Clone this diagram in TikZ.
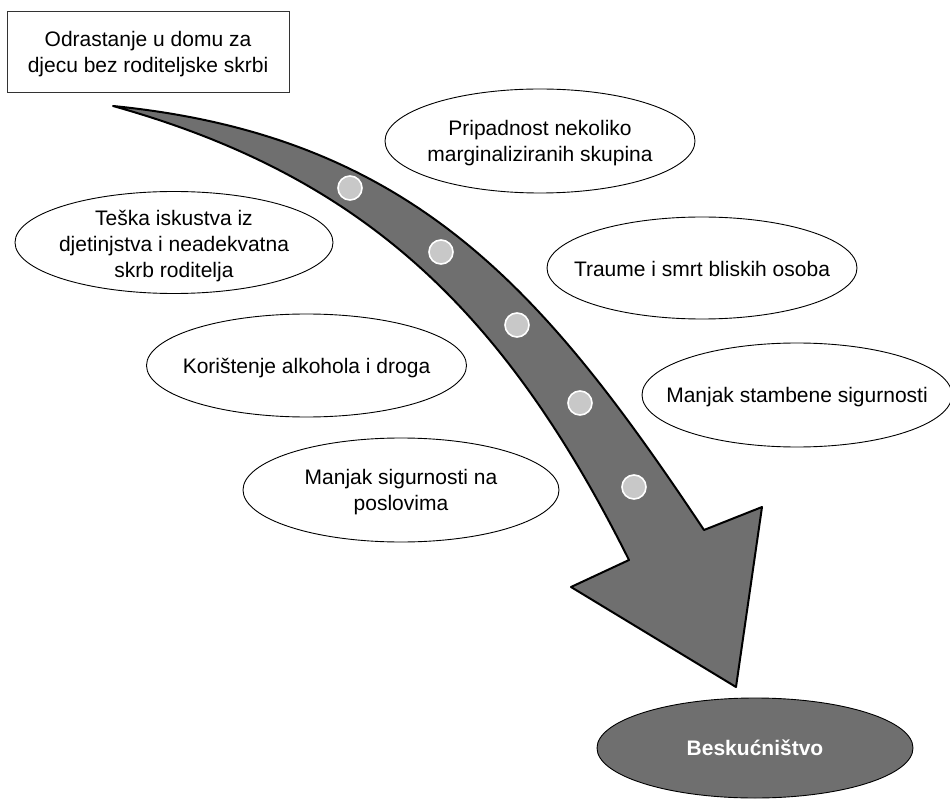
\documentclass[tikz,border=0pt]{standalone}
\usepackage{fontspec}
\setmainfont{Liberation Sans}
\usetikzlibrary{shapes.geometric}
\definecolor{arrowgray}{RGB}{111,111,111}
\definecolor{dotgray}{RGB}{200,200,200}
\tikzset{
  ell/.style={ellipse, draw=black, line width=0.9pt, fill=white, inner sep=0pt},
  txt/.style={align=center, inner sep=0pt, font=\fontsize{21}{26}\selectfont},
  startbox/.style={rectangle, draw=black!80, line width=1pt, fill=white, inner sep=0pt, minimum width=282pt, minimum height=81pt},
  arrowbody/.style={fill=arrowgray, draw=black, line width=2pt, line join=round},
  dot/.style={circle, fill=dotgray, draw=white, line width=1.6pt, minimum size=24pt, inner sep=0pt},
  goal/.style={ellipse, draw=black, line width=0.9pt, fill=arrowgray, inner sep=0pt, minimum width=316pt, minimum height=100pt}
}
\begin{document}
\begin{tikzpicture}[x=1pt,y=-1pt]
\useasboundingbox (0,0) rectangle (950,799);

% start box
\node[startbox] (start) at (148,52.5) {};
\node[txt] (starttxt) at ([yshift=-2pt]start.center) {Odrastanje u domu za\\djecu bez roditeljske skrbi};

% curved arrow
\coordinate (tail) at (113,106);
\coordinate (rnotch) at (704,530);
\coordinate (rbarb) at (762,507);
\coordinate (tip) at (736,687);
\coordinate (lbarb) at (571,587);
\coordinate (lnotch) at (629,560);
\draw[arrowbody] (tail) .. controls (413,136) and (544,290) .. (rnotch)
  -- (rbarb) -- (tip) -- (lbarb) -- (lnotch)
  .. controls (504,310) and (363,176) .. (tail) -- cycle;

% dots on the arrow
\node[dot] (d1) at (350,188) {};
\node[dot] (d2) at (441,252) {};
\node[dot] (d3) at (517,325) {};
\node[dot] (d4) at (580,403) {};
\node[dot] (d5) at (634,487) {};

% factor ellipses
\node[ell, minimum width=310pt, minimum height=104pt] (e1) at (540,141) {};
\node[txt] (t1) at ([yshift=-2pt]e1.center) {Pripadnost nekoliko\\marginaliziranih skupina};

\node[ell, minimum width=318pt, minimum height=102pt] (e2) at (174,242.5) {};
\node[txt] (t2) at ([yshift=-4pt]e2.center) {Teška iskustva iz\\djetinjstva i neadekvatna\\skrb roditelja};

\node[ell, minimum width=310pt, minimum height=102pt] (e3) at (702,268) {};
\node[txt] (t3) at ([yshift=-1pt]e3.center) {Traume i smrt bliskih osoba};

\node[ell, minimum width=320pt, minimum height=103pt] (e4) at (306.5,365.5) {};
\node[txt] (t4) at ([yshift=-3pt]e4.center) {Korištenje alkohola i droga};

\node[ell, minimum width=310pt, minimum height=104pt] (e5) at (797,395) {};
\node[txt] (t5) at ([yshift=-2pt]e5.center) {Manjak stambene sigurnosti};

\node[ell, minimum width=316pt, minimum height=104pt] (e6) at (401,490) {};
\node[txt] (t6) at ([yshift=-2pt]e6.center) {Manjak sigurnosti na\\poslovima};

% goal
\node[goal] (goal) at (755,748) {};
\node[txt, text=white, font=\fontsize{21}{25}\selectfont\bfseries] (goaltxt) at (goal) {Beskućništvo};
\end{tikzpicture}
\end{document}
